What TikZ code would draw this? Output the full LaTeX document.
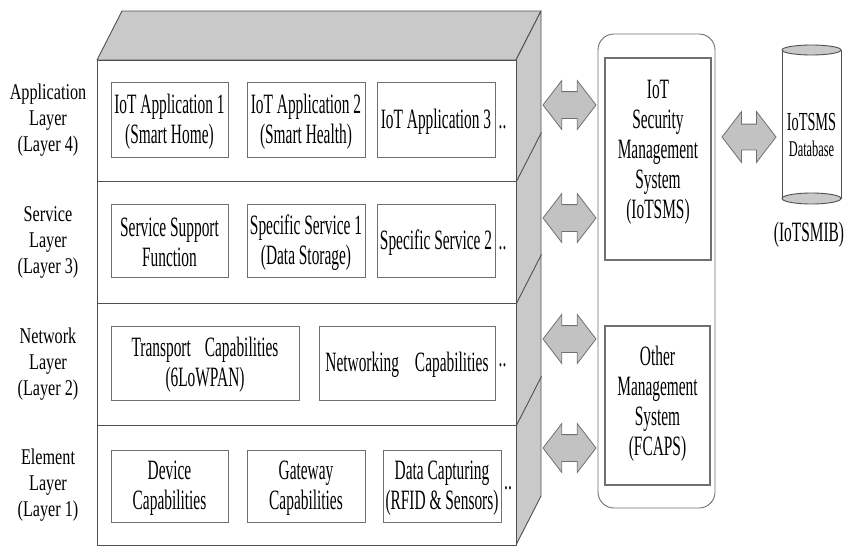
\documentclass[tikz,border=0pt]{standalone}
\usepackage{fontspec}
\setmainfont{Liberation Serif}
\newfontfamily\boxfont[FakeStretch=0.55]{Liberation Serif}
\newfontfamily\sidefont[FakeStretch=0.72]{Liberation Serif}
\usetikzlibrary{fit,shapes.arrows}

\definecolor{edgegray}{HTML}{505050}
\definecolor{boxgray}{HTML}{707070}
\definecolor{slabgray}{HTML}{C9C9C9}
\definecolor{arrowgray}{HTML}{C2C2C2}

\tikzset{
  layerbox/.style={draw=edgegray, line width=0.9pt, fill=white, inner sep=0pt},
  itembox/.style={draw=boxgray, line width=0.9pt, fill=white, inner sep=0pt},
  itemtext/.style={inner sep=0pt, align=center, yshift=-2pt,
    font=\boxfont\fontsize{28}{30}\selectfont},
  sidelabel/.style={align=center, inner sep=0pt, font=\sidefont\fontsize{22.5}{26}\selectfont},
  moredots/.style={anchor=base west, inner sep=0pt, font=\boxfont\fontsize{28}{30}\selectfont},
  fatarrow/.style={double arrow, draw=boxgray, fill=arrowgray, line width=0.8pt,
    inner xsep=0pt, inner ysep=13pt, minimum height=53pt,
    double arrow head extend=11pt, double arrow tip angle=105},
  mgmtbox/.style={draw=boxgray, line width=0.9pt, inner sep=0pt, rounded corners=16pt},
  sysbox/.style={draw=boxgray, line width=1.1pt, inner sep=0pt},
  systext/.style={inner sep=0pt, align=center, font=\boxfont\fontsize{28}{30}\selectfont},
  slab/.style={draw=edgegray, line width=0.9pt, fill=slabgray, line join=round},
  plaintext/.style={inner sep=0pt, align=center},
}

\begin{document}
\begin{tikzpicture}[x=1pt, y=-1pt]
\useasboundingbox (0,0) rectangle (844,546);

% --- the layered block: top face and right face ---
\draw[slab] (97,60) -- (122,11) -- (541,11) -- (516,60) -- cycle;
\draw[slab] (516,60) -- (541,11) -- (541,496) -- (516,545) -- cycle;

% --- front faces of the four layers ---
\node[layerbox, fit={(97,60) (516,181)}]  (app) {};
\node[layerbox, fit={(97,181) (516,303)}] (svc) {};
\node[layerbox, fit={(97,303) (516,425)}] (net) {};
\node[layerbox, fit={(97,425) (516,545)}] (elm) {};

% layer seams running back along the right face
\draw[edgegray, line width=0.9pt] (app.south east) -- ++(25,-49);
\draw[edgegray, line width=0.9pt] (svc.south east) -- ++(25,-49);
\draw[edgegray, line width=0.9pt] (net.south east) -- ++(25,-49);

% --- layer names ---
\node[sidelabel] (appname) at (48,120.5) {Application\\Layer\\(Layer 4)};
\node[sidelabel] (svcname) at (48,242)   {Service\\Layer\\(Layer 3)};
\node[sidelabel] (netname) at (48,364)   {Network\\Layer\\(Layer 2)};
\node[sidelabel] (elmname) at (48,485)   {Element\\Layer\\(Layer 1)};

% --- application layer ---
\node[itembox, fit={(111,82) (228,157)}] (a1) {};
\node[itembox, fit={(247,82) (365,157)}] (a2) {};
\node[itembox, fit={(377,82) (495,157)}] (a3) {};
\node[itemtext] (a1t) at (a1.center) {IoT Application 1\\(Smart Home)};
\node[itemtext] (a2t) at (a2.center) {IoT Application 2\\(Smart Health)};
\node[itemtext] (a3t) at (a3.center) {IoT Application 3};
\node[moredots] (adots) at ([xshift=3pt]a3.east |- a3t.base) {..};

% --- service layer ---
\node[itembox, fit={(111,204) (228,277)}] (s1) {};
\node[itembox, fit={(247,204) (365,277)}] (s2) {};
\node[itembox, fit={(377,204) (495,277)}] (s3) {};
\node[itemtext] (s1t) at (s1.center) {Service Support\\Function};
\node[itemtext] (s2t) at (s2.center) {Specific Service 1\\(Data Storage)};
\node[itemtext] (s3t) at (s3.center) {Specific Service 2};
\node[moredots] (sdots) at ([xshift=3pt]s3.east |- s3t.base) {..};

% --- network layer ---
\node[itembox, fit={(111,326) (299,400)}] (n1) {};
\node[itembox, fit={(319,326) (495,400)}] (n2) {};
\node[itemtext] (n1t) at (n1.center) {Transport\hspace{14pt}Capabilities\\(6LoWPAN)};
\node[itemtext] (n2t) at (n2.center) {Networking\hspace{16pt}Capabilities};
\node[moredots] (ndots) at ([xshift=3pt,yshift=5pt]n2.east |- n2t.base) {..};

% --- element layer ---
\node[itembox, fit={(111,450) (228,522)}] (e1) {};
\node[itembox, fit={(247,450) (365,522)}] (e2) {};
\node[itembox, fit={(383,450) (501,522)}] (e3) {};
\node[itemtext] (e1t) at (e1.center) {Device\\Capabilities};
\node[itemtext] (e2t) at (e2.center) {Gateway\\Capabilities};
\node[itemtext] (e3t) at (e3.center) {Data Capturing\\(RFID \& Sensors)};
\node[moredots] (edots) at (504,489) {..};

% --- management systems ---
\node[mgmtbox, fit={(598,34) (715,508)}] (mgmt) {};
\node[sysbox, fit={(605,58) (711,260)}] (iotsms) {};
\node[systext] (iotsmst) at ([yshift=7pt]iotsms.center)
  {IoT\\Security\\Management\\System\\(IoTSMS)};
\node[sysbox, fit={(605,326) (710,485)}] (other) {};
\node[systext] (othert) at ([yshift=2pt]other.center)
  {Other\\Management\\System\\(FCAPS)};

% --- two-way links between layers and management ---
\node[fatarrow] (l4) at (569.5,105) {};
\node[fatarrow] (l3) at (569.5,218) {};
\node[fatarrow] (l2) at (569.5,339) {};
\node[fatarrow] (l1) at (569.5,448) {};

% --- management information base ---
\fill[white] (782,50) rectangle (841,198.5);
\draw[edgegray, line width=0.9pt] (782,50) -- (782,198.5) (841,50) -- (841,198.5);
\draw[slab] (811.5,50) ellipse [x radius=29.5, y radius=5];
\draw[slab] (811.5,198.5) ellipse [x radius=29.5, y radius=5.5];
\node[inner sep=0pt, fit={(782,45) (841,204)}] (db) {};
\node[plaintext, font=\boxfont\fontsize{26}{28}\selectfont] (dbname) at (811.5,122) {IoTSMS};
\node[plaintext, font=\boxfont\fontsize{22.5}{24}\selectfont] (dbkind) at (811.5,149) {Database};
\node[plaintext, font=\boxfont\fontsize{28}{30}\selectfont] (mib) at (809,235) {(IoTSMIB)};

\node[fatarrow, inner ysep=12.5pt, double arrow head extend=12.5pt, minimum height=54pt]
  (dblink) at (749,137) {};

\end{tikzpicture}
\end{document}
